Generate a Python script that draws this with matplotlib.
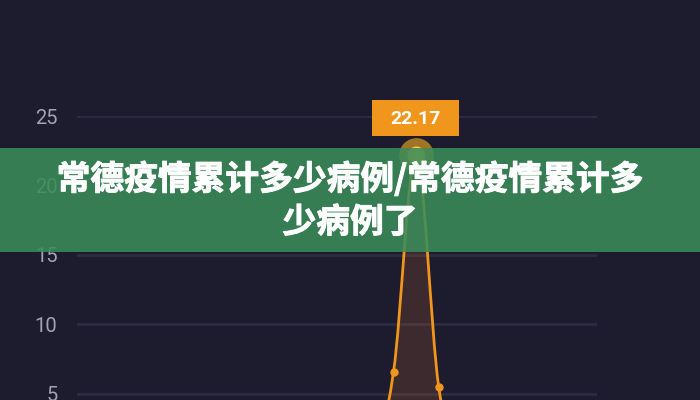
import matplotlib
matplotlib.use("Agg")
import matplotlib.pyplot as plt
import numpy as np
from matplotlib.path import Path
from matplotlib.patches import PathPatch, Rectangle
from matplotlib import transforms
import matplotlib.patheffects as pe

# ---- data ----
days = list(range(1, 25))
cases = [0, 0, 0, 0, 0, 0, 0, 0, 0, 0, 0, 0, 0, 0, 6.6, 22.17, 5.5, 0, 0, 0, 0, 0, 0, 0]
yticks = [5, 10, 15, 20, 25]
title_lines = ["常德疫情累计多少病例/常德疫情累计多", "少病例了"]

BG = "#1d1b2e"
ORANGE = "#f0961c"

fig = plt.figure(figsize=(7, 4), dpi=100, facecolor=BG)
ax = fig.add_axes([77 / 700, 0, 520 / 700, 0.71], facecolor=BG)

x = np.arange(len(cases), dtype=float)
y = np.array(cases, dtype=float)

# smooth curve via Catmull-Rom -> cubic Bezier segments (rendering only)
def smooth_path(xs, ys, t=0.35, close_to=None):
    verts = [(xs[0], ys[0])]
    codes = [Path.MOVETO]
    n = len(xs)
    for i in range(n - 1):
        p0 = (xs[max(i - 1, 0)], ys[max(i - 1, 0)])
        p1 = (xs[i], ys[i])
        p2 = (xs[i + 1], ys[i + 1])
        p3 = (xs[min(i + 2, n - 1)], ys[min(i + 2, n - 1)])
        c1 = (p1[0] + (p2[0] - p0[0]) * t / 2, p1[1] + (p2[1] - p0[1]) * t / 2)
        c2 = (p2[0] - (p3[0] - p1[0]) * t / 2, p2[1] - (p3[1] - p1[1]) * t / 2)
        verts += [c1, c2, p2]
        codes += [Path.CURVE4] * 3
    if close_to is not None:
        verts += [(xs[-1], close_to), (xs[0], close_to), (xs[0], ys[0])]
        codes += [Path.LINETO, Path.LINETO, Path.CLOSEPOLY]
    return Path(verts, codes)

ax.add_patch(PathPatch(smooth_path(x, y, close_to=-5), facecolor="#e07a30", alpha=0.16,
                       edgecolor="none", zorder=2))
ax.add_patch(PathPatch(smooth_path(x, y), facecolor="none", edgecolor=ORANGE,
                       lw=2.0, zorder=3))
ax.plot(x, y, "o", color=ORANGE, ms=5, zorder=4)

pk = int(np.argmax(y))
ax.plot(x[pk], y[pk], "o", color="#f8b020", ms=25, alpha=0.6, mec="none", zorder=4)
ax.plot(x[pk], y[pk], "o", color="#fcd040", ms=13, alpha=0.95, mec="none", zorder=5)

# value label box above the peak
trans = fig.dpi_scale_trans + transforms.ScaledTranslation(x[pk], y[pk], ax.transData)
ax.add_patch(Rectangle((-0.445, 0.19), 0.87, 0.36, transform=trans, facecolor=ORANGE,
                       edgecolor="none", zorder=6, clip_on=False))
ax.text(-0.01, 0.365, f"{y[pk]:.2f}", transform=trans, ha="center", va="center",
        color="white", fontsize=14, fontfamily="Roboto", fontweight="bold",
        zorder=7, clip_on=False)

ax.set_xlim(0, len(cases) - 1)
ax.set_ylim(4.568, 25)
ax.set_yticks(yticks)
ax.set_xticks([])
ax.grid(axis="y", color="#2d2b40", lw=2)
ax.set_axisbelow(True)
for s in ax.spines.values():
    s.set_visible(False)
ax.tick_params(axis="y", length=0, pad=14, labelcolor="#a3a3b5", labelsize=14.5)
for lab in ax.get_yticklabels():
    lab.set_fontfamily("Roboto")

# green banner with title
fig.patches.append(Rectangle((0, 1 - 252 / 400), 1, 104 / 400, transform=fig.transFigure,
                             facecolor="#3b8c5a", alpha=0.87, edgecolor="none", zorder=10))
for yy, line in zip([1 - 179 / 400, 1 - 222 / 400], title_lines):
    fig.text(0.5, yy, line, ha="center", va="center", color="white", fontsize=24.3,
             fontweight="bold", family=["Noto Sans CJK SC", "DejaVu Sans"], zorder=11,
             path_effects=[pe.withStroke(linewidth=0.7, foreground="white")])

fig.savefig("out.png", dpi=100, facecolor=BG)
